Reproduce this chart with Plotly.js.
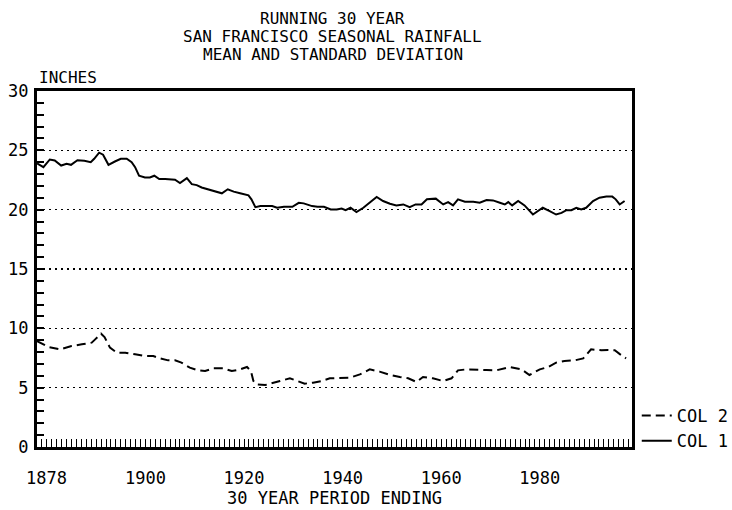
<!DOCTYPE html>
<html>
<head>
<meta charset="utf-8">
<script src="https://cdn.plot.ly/plotly-3.0.1.min.js"></script>
<style>html,body{margin:0;padding:0;background:#fff;}#chart{width:732px;height:510px;}</style>
</head>
<body>
<div id="chart"></div>
<script>
// ---- data ----
const titleLines = ["RUNNING 30 YEAR", "SAN FRANCISCO SEASONAL RAINFALL", "MEAN AND STANDARD DEVIATION"];
const yAxisLabel = "INCHES";
const xAxisLabel = "30 YEAR PERIOD ENDING";
const xTickVals = [1878, 1900, 1920, 1940, 1960, 1980];
const xTickText = ["1878", "1900", "1920", "1940", "1960", "1980"];
const yTickVals = [0, 5, 10, 15, 20, 25, 30];

const col1Name = "COL 1";
const col1Years = [1878.0,1879.3,1880.6,1881.6,1882.9,1884.0,1884.9,1886.2,1887.6,1888.9,1889.6,1890.6,1891.4,1892.5,1893.8,1895.0,1896.2,1897.2,1897.9,1898.7,1899.9,1900.9,1901.8,1902.8,1904.0,1905.0,1906.0,1907.0,1908.4,1909.4,1910.4,1911.4,1912.8,1914.1,1915.5,1916.7,1917.9,1919.2,1920.9,1921.5,1922.3,1923.3,1924.7,1925.7,1926.7,1928.1,1929.8,1931.1,1932.1,1933.8,1934.9,1936.2,1937.6,1938.8,1939.8,1940.6,1941.6,1942.8,1944.2,1945.5,1946.9,1948.2,1949.6,1950.9,1952.3,1953.6,1954.8,1956.0,1957.1,1958.9,1960.4,1961.4,1962.4,1963.4,1964.8,1966.5,1967.8,1969.2,1970.5,1971.9,1972.9,1973.6,1974.4,1975.6,1976.9,1978.6,1979.6,1980.6,1982.0,1983.3,1984.4,1985.4,1986.4,1987.4,1988.4,1989.4,1990.8,1992.1,1993.5,1994.7,1995.4,1996.2,1997.2];
const col1Values = [23.9,23.58,24.23,24.15,23.72,23.86,23.78,24.17,24.12,24.0,24.29,24.8,24.63,23.78,24.06,24.29,24.29,24.0,23.58,22.86,22.72,22.72,22.86,22.58,22.58,22.52,22.52,22.24,22.66,22.15,22.07,21.87,21.72,21.58,21.38,21.72,21.52,21.38,21.21,20.87,20.21,20.30,20.30,20.30,20.16,20.24,20.24,20.58,20.53,20.30,20.24,20.24,20.01,20.01,20.10,19.96,20.16,19.79,20.16,20.58,21.07,20.73,20.5,20.36,20.44,20.21,20.44,20.44,20.87,20.93,20.44,20.64,20.36,20.87,20.67,20.67,20.58,20.81,20.78,20.58,20.44,20.64,20.36,20.73,20.36,19.59,19.87,20.16,19.87,19.59,19.73,19.96,19.96,20.16,20.01,20.16,20.73,21.01,21.10,21.10,20.87,20.44,20.73];

const col2Name = "COL 2";
const col2Years = [1878.0,1880.3,1882.7,1885.0,1887.1,1889.1,1889.8,1891.0,1891.7,1892.8,1894.2,1895.9,1897.9,1899.9,1901.6,1902.9,1904.6,1906.0,1907.3,1909.0,1910.7,1912.1,1913.8,1915.8,1917.5,1919.2,1920.6,1921.4,1921.9,1922.5,1924.3,1925.6,1927.3,1929.3,1931.0,1932.3,1934.0,1935.7,1937.4,1939.4,1941.5,1943.5,1945.5,1947.5,1949.6,1951.6,1953.3,1955.0,1956.3,1958.3,1960.4,1962.1,1963.4,1965.1,1967.1,1969.2,1971.2,1973.9,1976.3,1977.9,1980.0,1981.7,1983.3,1985.0,1987.1,1988.8,1990.4,1992.5,1993.8,1995.2,1996.3,1997.5];
const col2Values = [8.93,8.43,8.23,8.51,8.65,8.79,9.07,9.55,9.27,8.37,7.95,7.95,7.81,7.67,7.67,7.47,7.30,7.30,7.11,6.69,6.46,6.40,6.63,6.63,6.40,6.54,6.74,6.40,5.56,5.28,5.22,5.34,5.56,5.79,5.56,5.34,5.42,5.56,5.79,5.79,5.84,6.12,6.54,6.35,6.07,5.90,5.79,5.48,5.90,5.79,5.56,5.79,6.46,6.54,6.54,6.49,6.46,6.74,6.54,6.07,6.54,6.74,7.11,7.25,7.30,7.47,8.23,8.15,8.17,8.15,7.81,7.47];

// ---- chart ----
const FONT = "DejaVu Sans Mono, monospace";
const traces = [
  {x: col1Years, y: col1Values, name: col1Name, type: "scatter", mode: "lines",
   line: {color: "#000", width: 2, shape: "linear"}},
  {x: col2Years, y: col2Values, name: col2Name, type: "scatter", mode: "lines",
   line: {color: "#000", width: 2, dash: "9px,5px"}}
];

const H = 510, T = 91, B = 63;
const plotH = H - T - B;
function py(pix) { return (H - B - pix) / plotH; }

// first tick label drawn slightly right of its tick, as in the reference
const shownTickText = xTickText.map((t, i) => i === 0 ? "" : t);

const layout = {
  width: 732, height: 510,
  margin: {l: 37, r: 100, t: T, b: B, pad: 0, autoexpand: false},
  paper_bgcolor: "#fff", plot_bgcolor: "#fff",
  font: {family: FONT, size: 17, color: "#000"},
  showlegend: true,
  legend: {x: 1.008, xanchor: "left", y: py(398), yanchor: "top",
           traceorder: "reversed", font: {family: FONT, size: 17, color: "#000"},
           bgcolor: "rgba(0,0,0,0)", borderwidth: 0, itemwidth: 30, tracegroupgap: 0},
  xaxis: {
    range: [1878, 1998.7], tickmode: "array", tickvals: xTickVals, ticktext: shownTickText,
    ticks: "inside", ticklen: 8, tickwidth: 1, tickcolor: "#000",
    minor: {dtick: 1, tick0: 1878, ticks: "inside", ticklen: 8, tickwidth: 1, tickcolor: "#000", showgrid: false},
    showgrid: false, zeroline: false,
    showline: true, linewidth: 3, linecolor: "#000", mirror: true,
    ticklabelstandoff: 14,
    tickfont: {family: FONT, size: 17, color: "#000"},
    title: {text: xAxisLabel, font: {family: FONT, size: 17, color: "#000"}, standoff: 2}
  },
  yaxis: {
    range: [0, 30], tickmode: "array", tickvals: yTickVals,
    ticks: "inside", ticklen: 7, tickwidth: 2, tickcolor: "#000",
    minor: {dtick: 1, tick0: 0, ticks: "inside", ticklen: 7, tickwidth: 2, tickcolor: "#000", showgrid: false},
    showgrid: true, gridcolor: "#000", gridwidth: 1.5, griddash: "2px,4px",
    zeroline: false,
    showline: true, linewidth: 3, linecolor: "#000", mirror: true,
    ticklabelstandoff: 2,
    tickfont: {family: FONT, size: 17, color: "#000"}
  },
  annotations: [
    {text: titleLines[0], xref: "paper", yref: "paper", x: 0.497, y: py(19), xanchor: "center", yanchor: "middle", showarrow: false, font: {family: FONT, size: 16, color: "#000"}},
    {text: titleLines[1], xref: "paper", yref: "paper", x: 0.497, y: py(37), xanchor: "center", yanchor: "middle", showarrow: false, font: {family: FONT, size: 16, color: "#000"}},
    {text: titleLines[2], xref: "paper", yref: "paper", x: 0.497, y: py(55), xanchor: "center", yanchor: "middle", showarrow: false, font: {family: FONT, size: 16, color: "#000"}},
    {text: yAxisLabel, xref: "paper", yref: "paper", x: 0, y: py(77), xanchor: "left", yanchor: "middle", showarrow: false, font: {family: FONT, size: 16, color: "#000"}},
    {text: xTickText[0], xref: "x", yref: "paper", x: xTickVals[0], y: py(478), xanchor: "center", xshift: 9, yanchor: "middle", showarrow: false, font: {family: FONT, size: 17, color: "#000"}}
  ]
};

Plotly.newPlot("chart", traces, layout, {staticPlot: true, displayModeBar: false});
</script>
</body>
</html>
